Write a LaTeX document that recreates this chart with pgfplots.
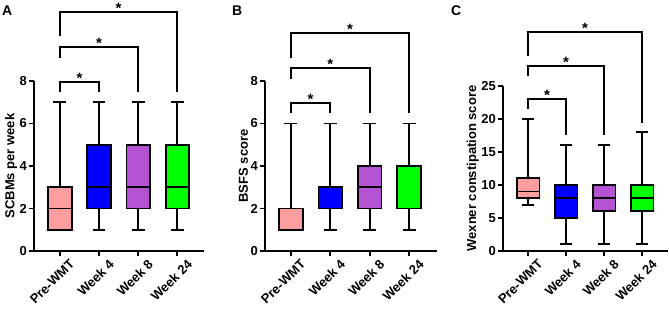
\documentclass[border=0pt]{standalone}
\usepackage{pgfplots}
\pgfplotsset{compat=1.18}
\usepgfplotslibrary{statistics}
\usepackage{fontspec}
\setmainfont{Liberation Sans}
\definecolor{cpink}{HTML}{FF9E9E}
\definecolor{cblue}{HTML}{0000FF}
\definecolor{cpurple}{HTML}{B452D4}
\definecolor{cgreen}{HTML}{00FF00}
\newcommand{\tfont}{\fontsize{13}{15}\selectfont\bfseries}
\tikzset{br/.style={line width=1.8pt}, st/.style={anchor=base, font=\fontsize{15}{15}\selectfont\bfseries, yshift=-1.5pt}}
\pgfplotsset{
  panel/.style={
    scale only axis,
    anchor=south west,
    axis lines=left,
    axis line style={-, line width=1.8pt},
    clip=false,
    xmin=-0.66, xmax=3.68,
    xtick={0,1,2,3},
    xticklabels={Pre-WMT,Week 4,Week 8,Week 24},
    x tick label style={xshift=9pt, yshift=-1pt, rotate=45, anchor=north east, font=\tfont, inner sep=1pt},
    y tick label style={font=\tfont, inner sep=2pt},
    ylabel style={font=\tfont, yshift=-3pt},
    tick align=outside,
    major tick length=5pt,
    every tick/.style={black, line width=1.8pt},
    /pgf/number format/assume math mode=true,
    boxplot/draw direction=y,
    boxplot/box extend=0.6,
    boxplot/whisker extend=0.33,
  },
  bx/.style={draw=black, line width=1.8pt, fill=#1, solid},
}
\begin{document}
\begin{tikzpicture}
\path[use as bounding box] (0,0) rectangle (669pt,310pt);
% ---------------- A
\begin{axis}[panel, at={(34pt,59pt)}, width=170pt, height=170pt,
  ymin=0, ymax=8, ytick={0,2,4,6,8}, ylabel={SCBMs per week}]
\addplot[bx=cpink, boxplot prepared={lower whisker=1, lower quartile=1, median=2, upper quartile=3, upper whisker=7, draw position=0}] coordinates {};
\addplot[bx=cblue, boxplot prepared={lower whisker=1, lower quartile=2, median=3, upper quartile=5, upper whisker=7, draw position=1}] coordinates {};
\addplot[bx=cpurple, boxplot prepared={lower whisker=1, lower quartile=2, median=3, upper quartile=5, upper whisker=7, draw position=2}] coordinates {};
\addplot[bx=cgreen, boxplot prepared={lower whisker=1, lower quartile=2, median=3, upper quartile=5, upper whisker=7, draw position=3}] coordinates {};
\draw[br] (axis cs:0,7.5) |- (axis cs:1,7.95) -- (axis cs:1,7.5);
\draw[br] (axis cs:0,9.1) |- (axis cs:2,9.6) -- (axis cs:2,7.5);
\draw[br] (axis cs:0,10.1) |- (axis cs:3,11.25) -- (axis cs:3,7.5);
\node[st] at (axis cs:0.5,7.95) {*};
\node[st] at (axis cs:1,9.6) {*};
\node[st] at (axis cs:1.5,11.25) {*};
\end{axis}
% ---------------- B
\begin{axis}[panel, at={(265pt,59pt)}, width=172pt, height=170pt, xmax=3.71,
  ymin=0, ymax=8, ytick={0,2,4,6,8}, ylabel={BSFS score}]
\addplot[bx=cpink, boxplot prepared={lower whisker=1, lower quartile=1, median=2, upper quartile=2, upper whisker=6, draw position=0}] coordinates {};
\addplot[bx=cblue, boxplot prepared={lower whisker=1, lower quartile=2, median=3, upper quartile=3, upper whisker=6, draw position=1}] coordinates {};
\addplot[bx=cpurple, boxplot prepared={lower whisker=1, lower quartile=2, median=3, upper quartile=4, upper whisker=6, draw position=2}] coordinates {};
\addplot[bx=cgreen, boxplot prepared={lower whisker=1, lower quartile=2, median=2, upper quartile=4, upper whisker=6, draw position=3}] coordinates {};
\draw[br] (axis cs:0,6.5) |- (axis cs:1,6.96) -- (axis cs:1,6.5);
\draw[br] (axis cs:0,8.1) |- (axis cs:2,8.6) -- (axis cs:2,6.5);
\draw[br] (axis cs:0,9.1) |- (axis cs:3,10.26) -- (axis cs:3,6.5);
\node[st] at (axis cs:0.5,6.96) {*};
\node[st] at (axis cs:1,8.6) {*};
\node[st] at (axis cs:1.5,10.26) {*};
\end{axis}
% ---------------- C
\begin{axis}[panel, at={(503pt,59pt)}, width=165pt, height=165pt,
  ymin=0, ymax=25, ytick={0,5,10,15,20,25}, ylabel={Wexner constipation score}]
\addplot[bx=cpink, boxplot prepared={lower whisker=7, lower quartile=8, median=9, upper quartile=11, upper whisker=20, draw position=0}] coordinates {};
\addplot[bx=cblue, boxplot prepared={lower whisker=1, lower quartile=5, median=8, upper quartile=10, upper whisker=16, draw position=1}] coordinates {};
\addplot[bx=cpurple, boxplot prepared={lower whisker=1, lower quartile=6, median=8, upper quartile=10, upper whisker=16, draw position=2}] coordinates {};
\addplot[bx=cgreen, boxplot prepared={lower whisker=1, lower quartile=6, median=8, upper quartile=10, upper whisker=18, draw position=3}] coordinates {};
\draw[br] (axis cs:0,21.5) |- (axis cs:1,23) -- (axis cs:1,17.5);
\draw[br] (axis cs:0,26.5) |- (axis cs:2,28) -- (axis cs:2,17.5);
\draw[br] (axis cs:0,29.5) |- (axis cs:3,33.2) -- (axis cs:3,19.4);
\node[st] at (axis cs:0.5,23) {*};
\node[st] at (axis cs:1,28) {*};
\node[st] at (axis cs:1.5,33.2) {*};
\end{axis}
\node[anchor=north west, inner sep=0pt, font=\fontsize{14}{14}\selectfont\bfseries] at (2pt,304pt) {A};
\node[anchor=north west, inner sep=0pt, font=\fontsize{14}{14}\selectfont\bfseries] at (232pt,304pt) {B};
\node[anchor=north west, inner sep=0pt, font=\fontsize{14}{14}\selectfont\bfseries] at (451pt,304pt) {C};
\end{tikzpicture}
\end{document}
